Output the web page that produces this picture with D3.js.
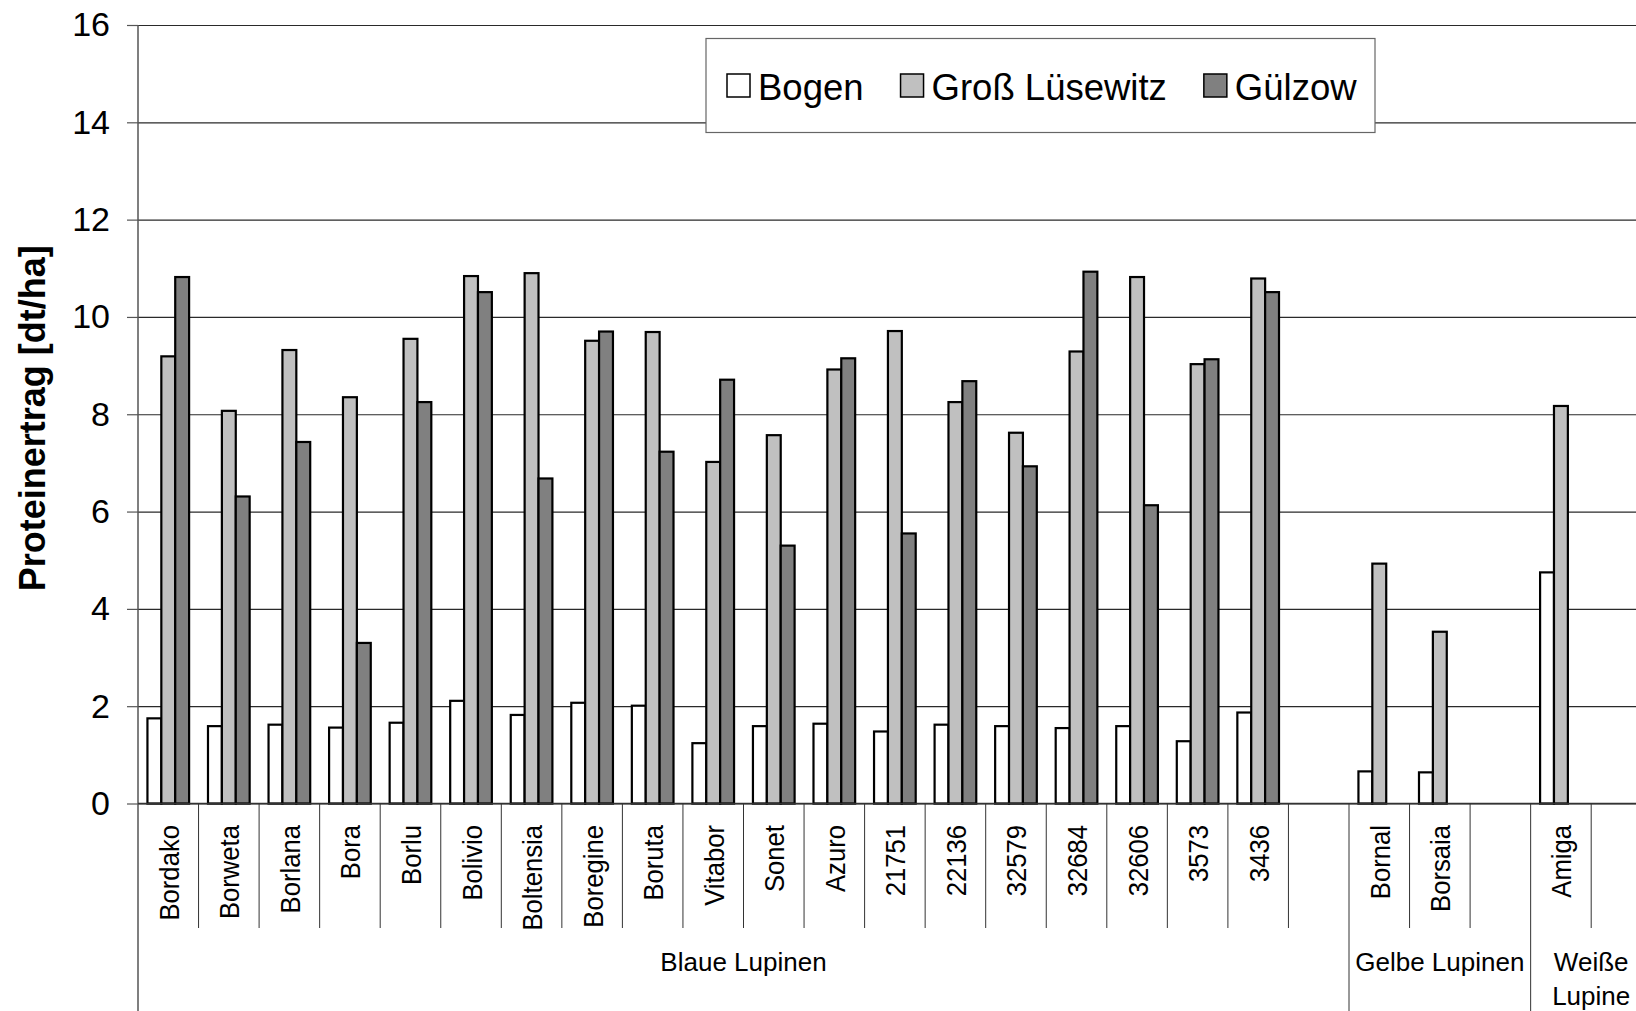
<!DOCTYPE html>
<html>
<head>
<meta charset="utf-8">
<script src="https://cdn.jsdelivr.net/npm/d3@7"></script>
<style>
  body { margin: 0; background: #fff; }
  svg { display: block; font-family: "Liberation Sans", Arial, sans-serif; }
</style>
</head>
<body>
<svg id="chart"></svg>
<script>
const width = 1636;
const height = 1011;

// chart data
const varieties = ['Bordako', 'Borweta', 'Borlana', 'Bora', 'Borlu', 'Bolivio', 'Boltensia', 'Boregine', 'Boruta',
    'Vitabor', 'Sonet', 'Azuro', '21751', '22136', '32579', '32684', '32606', '3573', '3436', '',
    'Bornal', 'Borsaia', '', 'Amiga', ''];
const bogen = [1.75, 1.59, 1.62, 1.56, 1.66, 2.11, 1.82, 2.07, 2.01, 1.24, 1.59, 1.64, 1.48, 1.62, 1.59, 1.55, 1.59, 1.28, 1.87, null,
    0.66, 0.64, null, 4.75, null];
const grossLuesewitz = [9.19, 8.07, 9.32, 8.35, 9.55, 10.84, 10.90, 9.51, 9.69, 7.02, 7.57, 8.92, 9.71, 8.25, 7.62, 9.29, 10.82, 9.03, 10.79, null,
    4.93, 3.53, null, 8.17, null];
const guelzow = [10.82, 6.31, 7.43, 3.30, 8.25, 10.51, 6.68, 9.70, 7.23, 8.71, 5.30, 9.15, 5.55, 8.68, 6.93, 10.93, 6.13, 9.13, 10.51, null,
    null, null, null, null, null];
const groupNames = ['Blaue Lupinen', 'Gelbe Lupinen', 'Weiße Lupine'];
const groupSizes = [20, 3, 2];
const seriesNames = ['Bogen', 'Groß Lüsewitz', 'Gülzow'];
const seriesColors = ['#FFFFFF', '#C0C0C0', '#808080'];
const yTicks = [0, 2, 4, 6, 8, 10, 12, 14, 16];

const plotLeft = 138;
const plotTop = 25;
const plotBottom = 803.5;
const step = 60.55;

const svg = d3.select('#chart')
    .attr('width', width)
    .attr('height', height);

const x = d3.scaleBand()
    .domain(d3.range(varieties.length))
    .range([plotLeft, plotLeft + step * varieties.length]);

const xSeries = d3.scaleBand()
    .domain(seriesNames)
    .range([0, x.bandwidth()])
    .paddingInner(0)
    .paddingOuter(0.68);

const y = d3.scaleLinear().domain([0, 16]).range([plotBottom, plotTop]);

// gridlines
svg.append('g')
    .attr('transform', `translate(${plotLeft}, 0)`)
    .call(d3.axisLeft(y).tickValues(yTicks).tickSize(-(width - plotLeft)).tickFormat(''))
    .call(g => g.select('.domain').remove())
    .selectAll('line')
    .attr('stroke', '#2a2a2a')
    .attr('stroke-width', 1.2);

// bars
const seriesValues = [bogen, grossLuesewitz, guelzow];
const barData = [];
varieties.forEach((v, i) => {
    seriesNames.forEach((s, j) => {
        const value = seriesValues[j][i];
        if (value != null) barData.push({ index: i, series: s, value: value, color: seriesColors[j] });
    });
});

svg.append('g').selectAll('rect')
    .data(barData)
    .enter()
    .append('rect')
    .attr('x', d => x(d.index) + xSeries(d.series))
    .attr('y', d => y(d.value))
    .attr('width', xSeries.bandwidth())
    .attr('height', d => y(0) - y(d.value))
    .attr('fill', d => d.color)
    .attr('stroke', '#000')
    .attr('stroke-width', 2.2);

// y axis
const yAxis = svg.append('g')
    .attr('transform', `translate(${plotLeft}, 0)`)
    .call(d3.axisLeft(y).tickValues(yTicks).tickSize(11).tickPadding(17));
yAxis.select('.domain').remove();
yAxis.selectAll('line').attr('stroke', '#555').attr('stroke-width', 1.2);
yAxis.selectAll('text')
    .attr('font-size', 34)
    .attr('font-family', '"Liberation Sans", Arial, sans-serif')
    .attr('fill', '#000');

svg.append('line')
    .attr('x1', plotLeft).attr('x2', plotLeft)
    .attr('y1', plotTop).attr('y2', height)
    .attr('stroke', '#555')
    .attr('stroke-width', 1.5);

svg.append('line')
    .attr('x1', plotLeft).attr('x2', width)
    .attr('y1', y(0)).attr('y2', y(0))
    .attr('stroke', '#333')
    .attr('stroke-width', 1.5);

// category dividers and group dividers
const groupStarts = [];
groupSizes.reduce((acc, n) => { groupStarts.push(acc); return acc + n; }, 0);

svg.append('g').selectAll('line')
    .data(d3.range(1, varieties.length + 1))
    .enter()
    .append('line')
    .attr('x1', i => plotLeft + i * step)
    .attr('x2', i => plotLeft + i * step)
    .attr('y1', y(0))
    .attr('y2', i => groupStarts.includes(i) ? height : 928)
    .attr('stroke', '#333')
    .attr('stroke-width', 1);

// category labels
svg.append('g').selectAll('text')
    .data(varieties.map((v, i) => ({ name: v, index: i })).filter(d => d.name !== ''))
    .enter()
    .append('text')
    .attr('transform', d => `translate(${x(d.index) + x.bandwidth() / 2 + 10.5}, 825) rotate(-90) scale(0.9, 1)`)
    .attr('text-anchor', 'end')
    .attr('font-size', 28.5)
    .text(d => d.name);

// group labels
const groupLabels = svg.append('g').selectAll('text')
    .data(groupNames.map((g, i) => ({ name: g, start: groupStarts[i], size: groupSizes[i] })))
    .enter()
    .append('text')
    .attr('x', d => plotLeft + (d.start + d.size / 2) * step)
    .attr('y', 971)
    .attr('text-anchor', 'middle')
    .attr('font-size', 26)
    .text(d => d.name);

// wrap a label onto two lines if it is wider than its group
groupLabels.each(function(d) {
    const t = d3.select(this);
    if (this.getComputedTextLength() > d.size * step - 6) {
        const words = d.name.split(' ');
        const cx = t.attr('x');
        t.text(null);
        words.forEach((w, k) => {
            t.append('tspan').attr('x', cx).attr('dy', k === 0 ? 0 : 34).text(w);
        });
    }
});

// y title
svg.append('text')
    .attr('transform', `translate(45, ${(plotTop + plotBottom) / 2 + 4}) rotate(-90)`)
    .attr('text-anchor', 'middle')
    .attr('font-size', 36)
    .attr('font-weight', 'bold')
    .text('Proteinertrag [dt/ha]');

// legend
const legend = svg.append('g');
legend.append('rect')
    .attr('x', 706).attr('y', 38.5)
    .attr('width', 669).attr('height', 94)
    .attr('fill', '#fff')
    .attr('stroke', '#666')
    .attr('stroke-width', 1.2);

let lx = 727;
seriesNames.forEach((s, j) => {
    legend.append('rect')
        .attr('x', lx).attr('y', 74)
        .attr('width', 23).attr('height', 23)
        .attr('fill', seriesColors[j])
        .attr('stroke', '#000')
        .attr('stroke-width', 1.5);
    const label = legend.append('text')
        .attr('x', lx + 31)
        .attr('y', 99.5)
        .attr('font-size', 36.5)
        .text(s);
    lx = lx + 31 + label.node().getComputedTextLength() + 37;
});
</script>
</body>
</html>
